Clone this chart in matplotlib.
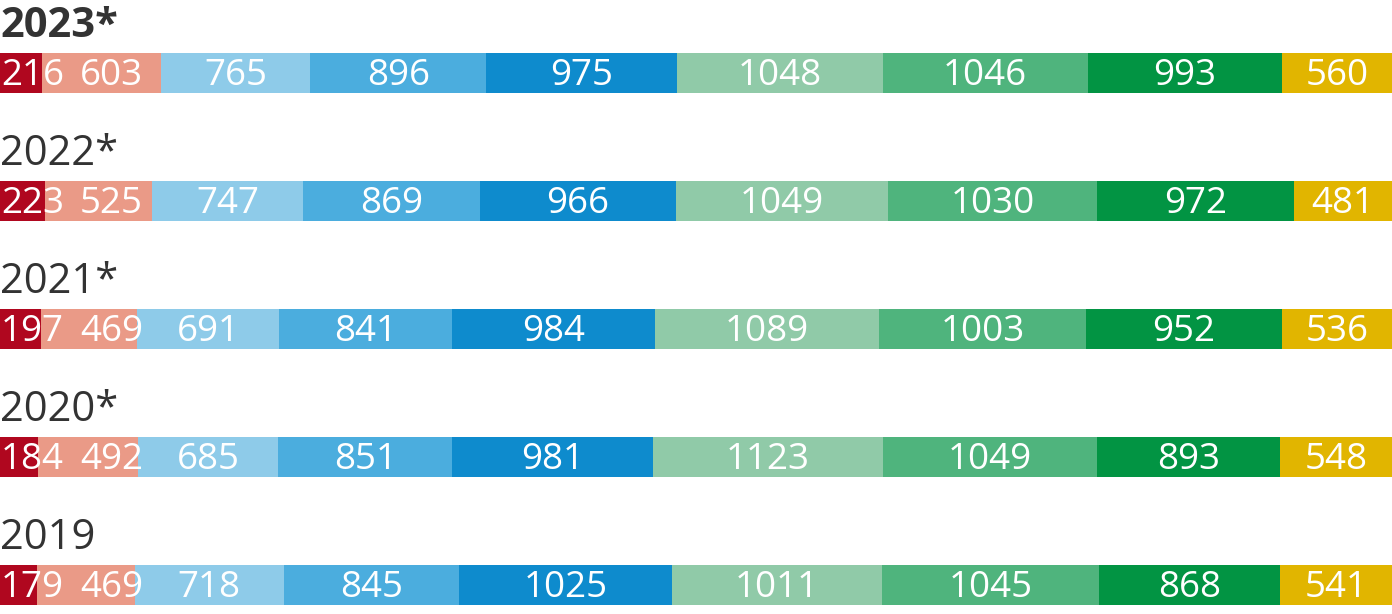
import matplotlib
matplotlib.use("Agg")
import matplotlib.pyplot as plt
import numpy as np

years = ["2023*", "2022*", "2021*", "2020*", "2019"]
v2023 = [216, 603, 765, 896, 975, 1048, 1046, 993, 560]
v2022 = [223, 525, 747, 869, 966, 1049, 1030, 972, 481]
v2021 = [197, 469, 691, 841, 984, 1089, 1003, 952, 536]
v2020 = [184, 492, 685, 851, 981, 1123, 1049, 893, 548]
v2019 = [179, 469, 718, 845, 1025, 1011, 1045, 868, 541]
rows = [v2023, v2022, v2021, v2020, v2019]

colors = ["#b0071f", "#ea9a87", "#8ecbe9", "#4badde", "#0e8bcd",
          "#90caa8", "#4fb47d", "#029443", "#e1b500"]

plt.rcParams['font.family'] = ['Open Sans', 'DejaVu Sans']

W, H = 1392, 614
fig = plt.figure(figsize=(W / 100, H / 100), dpi=100)
ax = fig.add_axes([0, 0, 1, 1])
ax.set_xlim(0, 1)
ax.set_ylim(H, 0)
ax.axis('off')

pitch = 128
bar_top0 = 53
bar_h = 40
renderer = fig.canvas.get_renderer()

for i, (yr, vals) in enumerate(zip(years, rows)):
    total = sum(vals)
    fr = np.array(vals) / total
    left = np.concatenate([[0], np.cumsum(fr)[:-1]])
    yc = bar_top0 + bar_h / 2 + pitch * i
    ax.barh(yc, fr, left=left, height=bar_h, color=colors, edgecolor='none')
    prev_right = None
    for l, w, v in zip(left, fr, vals):
        t = ax.text(0, yc + 3, str(v), ha='left', va='center',
                    color='white', fontsize=26.5)
        tw = t.get_window_extent(renderer).width / W
        x0 = l + w / 2 - tw / 2
        if prev_right is None:
            x0 = max(x0, 1 / W)
        else:
            x0 = max(x0, prev_right + 16 / W)
        t.set_x(x0)
        prev_right = x0 + tw
    ax.text(0.0, bar_top0 - 16 + pitch * i, yr, ha='left', va='baseline',
            color='#333333', fontsize=30,
            fontweight='bold' if i == 0 else 'normal')

fig.savefig("out.png", dpi=100)
